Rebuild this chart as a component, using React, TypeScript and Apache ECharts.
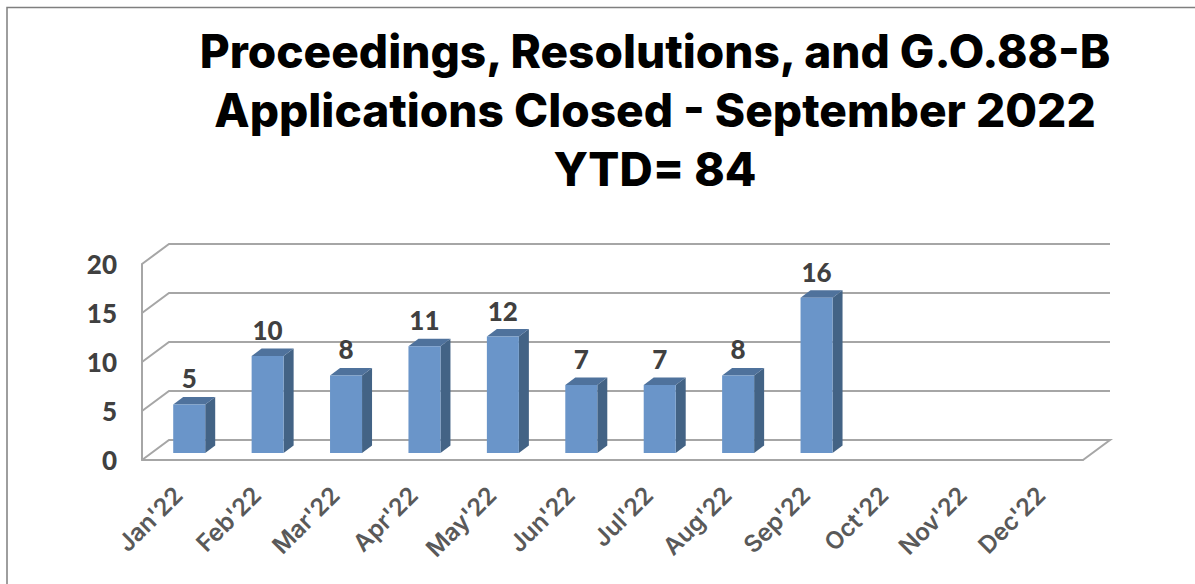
import React, { useEffect, useRef } from "react";
import * as echarts from "echarts";

const months = ["Jan'22", "Feb'22", "Mar'22", "Apr'22", "May'22", "Jun'22", "Jul'22", "Aug'22", "Sep'22", "Oct'22", "Nov'22", "Dec'22"];
const closed: (number | null)[] = [5, 10, 8, 11, 12, 7, 7, 8, 16, null, null, null];
const yTicks = [0, 5, 10, 15, 20];
const titleLines = ["Proceedings, Resolutions, and G.O.88-B", "Applications Closed - September 2022", "YTD= 84"];

const FONT = "Lato";
const TITLE_FONT = "Inter";
const WALL_DX = 27;
const WALL_DY = 20;
const BAR_W = 32;
const BAR_DX = 8;
const BAR_DY = 7;
const BAR_SCALE = 0.99;
const DEPTH_X = 10;
const DEPTH_Y = 7.5;
const LINE = "#a6a6a6";

export default function App() {
  const ref = useRef<HTMLDivElement>(null);
  useEffect(() => {
    const chart = echarts.init(ref.current!, null, { renderer: "svg" });
    chart.setOption({
      animation: false,
      backgroundColor: "#ffffff",
      title: {
        text: titleLines.join("\n"),
        left: 655,
        top: 21,
        padding: 0,
        textAlign: "center",
        textStyle: { fontFamily: TITLE_FONT, fontWeight: 800, fontSize: 46, lineHeight: 59, color: "#000000" },
      },
      grid: { left: 142, right: 112, top: 264, bottom: 124 },
      xAxis: {
        type: "category",
        data: months,
        axisLine: { show: true, lineStyle: { color: LINE, width: 2 } },
        axisTick: { show: false },
        axisLabel: {
          rotate: 45,
          interval: 0,
          margin: 28,
          fontFamily: TITLE_FONT,
          fontWeight: 600,
          fontSize: 24,
          color: "#595959",
          padding: [0, 4, 0, 0],
        },
      },
      yAxis: {
        type: "value",
        min: 0,
        max: 20,
        interval: 5,
        splitLine: { show: false },
        axisTick: { show: false },
        axisLine: { show: true, lineStyle: { color: LINE, width: 2 } },
        axisLabel: {
          margin: 25,
          fontFamily: FONT,
          fontWeight: 900,
          fontSize: 26,
          color: "#404040",
          lineHeight: 30,
          padding: [4, 0, 0, 0],
        },
      },
      graphic: [
        {
          type: "polyline",
          shape: { points: [[7, 584], [7, 7.5], [1195, 7.5]] },
          style: { stroke: "#7f7f7f", lineWidth: 1.5, fill: "none" },
        },
      ],
      series: [
        {
          type: "custom",
          name: "walls",
          silent: true,
          z: 1,
          data: yTicks.map((t) => [0, t]),
          renderItem: (params: any, api: any) => {
            const v = api.value(1);
            const y = api.coord([0, v])[1];
            const x0 = params.coordSys.x;
            const x1 = x0 + params.coordSys.width;
            const pts =
              v === 0
                ? [[x0, y], [x0 + WALL_DX, y - WALL_DY], [x1 + WALL_DX, y - WALL_DY], [x1, y]]
                : [[x0, y], [x0 + WALL_DX, y - WALL_DY], [x1 + WALL_DX, y - WALL_DY]];
            return {
              type: "polyline",
              shape: { points: pts },
              style: { stroke: LINE, lineWidth: 2, fill: "none" },
            };
          },
        },
        {
          type: "custom",
          name: "Closed",
          z: 3,
          data: closed.map((v, i) => [i, v]),
          renderItem: (_params: any, api: any) => {
            const v = api.value(1);
            if (v == null || isNaN(v)) return null;
            const top = api.coord([api.value(0), v]);
            const base = api.coord([api.value(0), 0]);
            const x = top[0] + BAR_DX - BAR_W / 2;
            const yb = base[1] - BAR_DY;
            const y = yb - (base[1] - top[1]) * BAR_SCALE;
            return {
              type: "group",
              children: [
                {
                  type: "polygon",
                  shape: { points: [[x + BAR_W, y], [x + BAR_W + DEPTH_X, y - DEPTH_Y], [x + BAR_W + DEPTH_X, yb - DEPTH_Y], [x + BAR_W, yb]] },
                  style: { fill: "#436385" },
                },
                {
                  type: "polygon",
                  shape: { points: [[x, y], [x + DEPTH_X, y - DEPTH_Y], [x + BAR_W + DEPTH_X, y - DEPTH_Y], [x + BAR_W, y]] },
                  style: { fill: "#4f729c" },
                },
                {
                  type: "rect",
                  shape: { x, y, width: BAR_W, height: yb - y },
                  style: { fill: "#6a95c9" },
                },
                {
                  type: "text",
                  style: {
                    x: x + BAR_W / 2,
                    y: y - 26,
                    text: String(v),
                    textAlign: "center",
                    textVerticalAlign: "middle",
                    fontFamily: FONT,
                    fontWeight: 900,
                    fontSize: 26,
                    fill: "#404040",
                  },
                },
              ],
            };
          },
        },
      ],
    });
    return () => chart.dispose();
  }, []);
  return <div ref={ref} style={{ position: "absolute", left: 0, top: 0, width: 1195, height: 584 }} />;
}
